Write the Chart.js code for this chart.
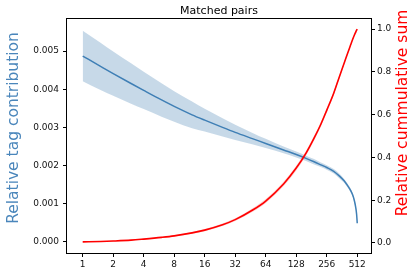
<!DOCTYPE html>
<html>
<head>
<meta charset="utf-8">
<script src="https://cdn.jsdelivr.net/npm/chart.js@4/dist/chart.umd.min.js"></script>
<style>
  html, body { margin: 0; padding: 0; background: #fff; }
  #wrap { width: 411px; height: 273px; }
</style>
</head>
<body>
<div id="wrap"><canvas id="c" width="411" height="273"></canvas></div>
<script>
// ---- data ----
const ranks = [1,1.5,2,3,4,6,8,12,16,24,32,48,64,96,128,160,192,224,256,300,340,380,410,440,460,480,495,505,512];
const contribution = [0.00487,0.00460,0.00441,0.00415,0.00397,0.00372,0.00355,0.00333,0.00319,0.00300,0.00287,0.00270,0.00258,0.00241,0.00229,0.00219,0.00210,0.00202,0.00195,0.00185,0.00173,0.00160,0.00148,0.00135,0.00124,0.00108,0.00090,0.00072,0.00049];
const contributionHigh = [0.00553,0.00522,0.00499,0.00468,0.00446,0.00416,0.00395,0.00368,0.00349,0.00324,0.00307,0.00285,0.00270,0.00250,0.00237,0.00226,0.00217,0.00208,0.00201,0.00191,0.00179,0.00165,0.00153,0.00140,0.00128,0.00112,0.00093,0.00074,0.00050];
const contributionLow = [0.00421,0.00398,0.00383,0.00362,0.00348,0.00328,0.00315,0.00298,0.00289,0.00276,0.00267,0.00255,0.00246,0.00232,0.00221,0.00212,0.00203,0.00196,0.00189,0.00179,0.00167,0.00155,0.00143,0.00130,0.00120,0.00104,0.00087,0.00070,0.00048];
const cumSum = [0.005,0.007,0.009,0.013,0.018,0.026,0.033,0.047,0.060,0.085,0.109,0.155,0.196,0.276,0.350,0.420,0.490,0.555,0.620,0.700,0.775,0.840,0.885,0.925,0.950,0.972,0.986,0.995,1.000];
const cumHigh = [0.006,0.008,0.0105,0.015,0.020,0.029,0.036,0.051,0.065,0.091,0.115,0.163,0.205,0.286,0.361,0.431,0.501,0.566,0.630,0.709,0.782,0.845,0.889,0.928,0.952,0.974,0.987,0.996,1.000];
const cumLow = [0.004,0.006,0.0075,0.011,0.016,0.023,0.030,0.043,0.055,0.079,0.103,0.147,0.187,0.266,0.339,0.409,0.479,0.544,0.610,0.691,0.768,0.835,0.881,0.922,0.948,0.970,0.985,0.994,1.000];
const xTicks = [1,2,4,8,16,32,64,128,256,512];
const leftTicks = [0,0.001,0.002,0.003,0.004,0.005];
const rightTicks = [0,0.2,0.4,0.6,0.8,1.0];
const titleText = 'Matched pairs';
const leftLabel = 'Relative tag contribution';
const rightLabel = 'Relative cummulative sum';

const pts = arr => ranks.map((r, i) => ({ x: r, y: arr[i] }));
const FONT = 'DejaVu Sans';
const BLUE = '#3f7fb5';
const tickFont = { family: FONT, size: 9 };

const base = { pointRadius: 0, cubicInterpolationMode: 'monotone', borderWidth: 0 };

const decor = {
  id: 'decor',
  afterDraw(chart) {
    const { ctx, chartArea: a } = chart;
    ctx.save();
    ctx.strokeStyle = '#000';
    ctx.lineWidth = 1;
    ctx.strokeRect(Math.round(a.left) - 0.5, Math.round(a.top) - 0.5,
                   Math.round(a.right - a.left) + 1, Math.round(a.bottom - a.top) + 1);
    ctx.fillStyle = '#000';
    ctx.font = '11px "' + FONT + '"';
    ctx.textAlign = 'center';
    ctx.textBaseline = 'alphabetic';
    ctx.fillText(titleText, (a.left + a.right) / 2, 13.5);
    ctx.font = '15.5px "' + FONT + '"';
    ctx.textBaseline = 'middle';
    ctx.save();
    ctx.translate(14, 128);
    ctx.rotate(-Math.PI / 2);
    ctx.fillStyle = '#4a86bb';
    ctx.fillText(leftLabel, 0, 0);
    ctx.restore();
    ctx.save();
    ctx.translate(403, 113);
    ctx.rotate(-Math.PI / 2);
    ctx.fillStyle = '#ff0000';
    ctx.fillText(rightLabel, 0, 0);
    ctx.restore();
    ctx.restore();
  }
};

const tickGrid = { display: true, drawOnChartArea: false, drawTicks: true, tickLength: 4, tickColor: '#000', lineWidth: 1 };

new Chart(document.getElementById('c'), {
  type: 'line',
  data: {
    datasets: [
      { ...base, data: pts(cumSum), yAxisID: 'y2', borderColor: '#ff0000', borderWidth: 1.6, order: 0, fill: false },
      { ...base, data: pts(cumLow), yAxisID: 'y2', order: 1, fill: false },
      { ...base, data: pts(cumHigh), yAxisID: 'y2', order: 1, fill: '-1', backgroundColor: 'rgba(255,0,0,0.2)' },
      { ...base, data: pts(contribution), yAxisID: 'y', borderColor: BLUE, borderWidth: 1.5, order: 2, fill: false },
      { ...base, data: pts(contributionLow), yAxisID: 'y', order: 3, fill: false },
      { ...base, data: pts(contributionHigh), yAxisID: 'y', order: 3, fill: '-1', backgroundColor: 'rgba(70,130,180,0.3)' }
    ]
  },
  options: {
    responsive: false,
    animation: false,
    layout: { padding: { top: 19, left: 0, right: 0, bottom: 0 } },
    plugins: { legend: { display: false }, tooltip: { enabled: false }, title: { display: false } },
    scales: {
      x: {
        type: 'logarithmic', position: 'bottom',
        min: 0.732, max: 700,
        grid: tickGrid, border: { display: false },
        afterBuildTicks: s => { s.ticks = xTicks.map(v => ({ value: v })); },
        afterFit: s => { s.height = 20; },
        ticks: { font: tickFont, color: '#111', padding: 2, autoSkip: false, maxRotation: 0, callback: v => String(v) }
      },
      y: {
        type: 'linear', position: 'left',
        min: -0.00029, max: 0.00584,
        grid: tickGrid, border: { display: false },
        afterBuildTicks: s => { s.ticks = leftTicks.map(v => ({ value: v })); },
        afterFit: s => { s.width = 67; },
        ticks: { font: tickFont, color: '#111', padding: 4, callback: v => v.toFixed(3) }
      },
      y2: {
        type: 'linear', position: 'right',
        min: -0.047, max: 1.047,
        grid: tickGrid, border: { display: false },
        afterBuildTicks: s => { s.ticks = rightTicks.map(v => ({ value: v })); },
        afterFit: s => { s.width = 40; },
        ticks: { font: tickFont, color: '#111', padding: 2, callback: v => v.toFixed(1) }
      }
    }
  },
  plugins: [decor]
});
</script>
</body>
</html>
